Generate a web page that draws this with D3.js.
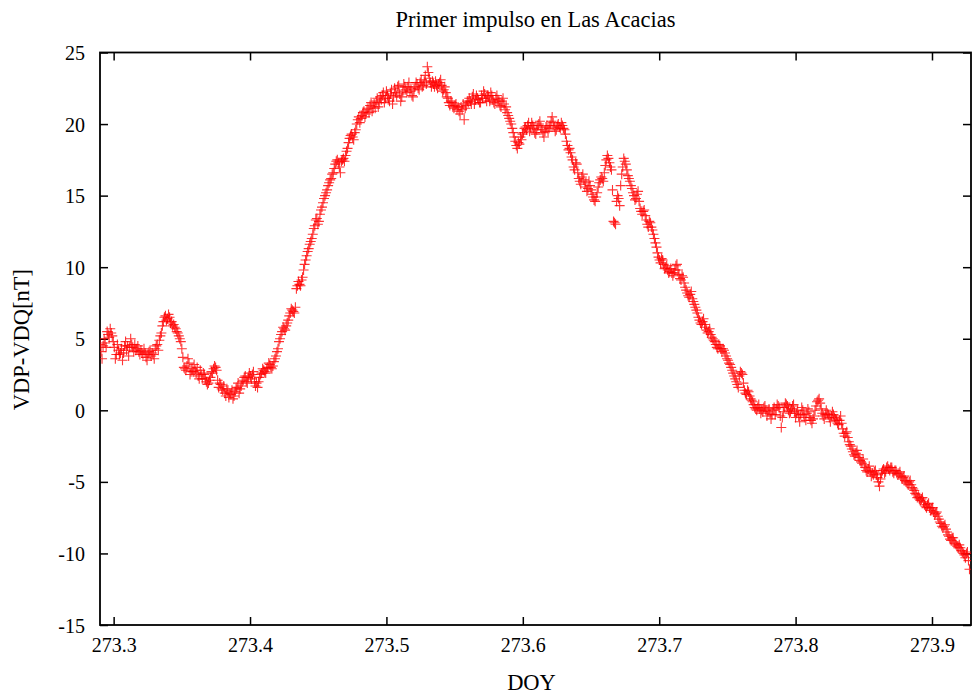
<!DOCTYPE html>
<html>
<head>
<meta charset="utf-8">
<script src="https://cdn.jsdelivr.net/npm/d3@7"></script>
<style>
  html, body { margin: 0; padding: 0; background: #fff; }
  svg { display: block; }
  text { font-family: "Liberation Serif", "Times New Roman", serif; fill: #000; }
</style>
</head>
<body>
<svg id="chart" width="972" height="696"></svg>
<script>
// ---- data ----
const chartTitle = "Primer impulso en Las Acacias";
const xLabel = "DOY";
const yLabel = "VDP-VDQ[nT]";
const doyStart = 273.29;   // first sample (day of year)
const doyStep = 0.00075;   // sample interval (days)
const xDomain = [273.29, 273.9286];
const yDomain = [-15, 25];
const xTickValues = [273.3, 273.4, 273.5, 273.6, 273.7, 273.8, 273.9];
const yTickValues = [-15, -10, -5, 0, 5, 10, 15, 20, 25];
const values = [
  4.6, 4.1, 3.6, 4.5, 5.0, 4.7, 4.4, 5.5, 5.3, 5.1, 5.7, 5.4, 5.2, 4.8, 4.4, 3.6, 3.9, 4.6, 4.2, 3.9,
  4.0, 4.3, 3.5, 4.0, 4.5, 4.8, 4.2, 4.5, 3.8, 4.4, 5.0, 4.6, 4.4, 4.1, 4.6, 4.2, 4.3, 4.5, 4.1, 3.9,
  4.2, 4.0, 3.9, 4.3, 4.0, 3.7, 3.5, 3.9, 4.1, 4.2, 3.8, 4.0, 3.9, 3.6, 4.3, 4.5, 4.6, 4.2, 4.9, 5.2,
  5.4, 5.9, 6.2, 6.5, 6.6, 6.3, 6.4, 6.7, 6.5, 6.1, 6.2, 5.9, 6.0, 5.8, 5.7, 5.5, 5.4, 5.2, 5.0, 4.8,
  4.3, 3.7, 3.0, 2.9, 2.8, 3.1, 3.6, 3.3, 2.5, 2.7, 2.9, 2.7, 3.2, 2.8, 2.6, 3.0, 2.4, 2.2, 2.8, 2.5,
  2.2, 2.6, 2.5, 2.2, 2.0, 1.8, 1.9, 2.1, 2.3, 2.7, 2.6, 2.9, 3.1, 3.0, 2.8, 2.1, 1.6, 1.9, 1.8, 1.5,
  1.4, 1.7, 1.2, 1.0, 1.5, 1.3, 0.9, 1.2, 1.1, 1.4, 0.8, 1.0, 1.3, 1.5, 1.6, 1.9, 1.2, 1.5, 1.7, 2.0,
  2.1, 2.3, 2.4, 2.0, 1.9, 2.3, 2.6, 2.4, 2.2, 2.5, 2.7, 2.0, 1.7, 1.9, 1.6, 2.0, 2.3, 2.5, 2.6, 2.9,
  2.8, 2.7, 2.6, 2.9, 3.0, 3.3, 3.2, 3.0, 2.9, 3.1, 3.4, 3.6, 3.8, 4.1, 4.3, 4.8, 5.0, 5.3, 5.5, 5.8,
  5.7, 5.6, 5.9, 6.1, 6.3, 6.6, 6.8, 7.1, 7.0, 6.9, 6.8, 7.2, 8.5, 8.7, 9.0, 8.8, 8.7, 9.1, 9.3, 9.8,
  10.2, 10.5, 10.8, 11.1, 11.3, 11.6, 11.8, 12.0, 12.3, 12.7, 12.9, 13.3, 13.4, 13.0, 13.2, 13.7, 14.0, 14.2, 14.5, 14.8,
  15.0, 15.2, 15.4, 15.7, 15.9, 16.1, 16.2, 16.5, 16.6, 16.9, 17.2, 17.4, 17.5, 17.3, 17.0, 16.6, 17.4, 17.5, 17.6, 17.4,
  17.8, 18.1, 18.3, 18.7, 19.0, 19.2, 19.3, 19.1, 18.9, 19.4, 19.6, 20.0, 20.3, 20.5, 20.1, 20.4, 20.6, 20.8, 20.9, 20.5,
  20.7, 21.0, 21.1, 20.8, 21.3, 21.5, 20.9, 21.2, 21.4, 21.1, 21.6, 21.8, 21.2, 21.5, 21.9, 21.7, 22.0, 22.2, 21.5, 21.8,
  22.3, 22.0, 21.8, 21.6, 22.1, 22.4, 21.4, 21.9, 22.5, 22.2, 22.0, 22.6, 22.7, 22.1, 21.6, 21.9, 22.3, 22.8, 22.6, 22.4,
  22.2, 22.6, 22.9, 22.3, 22.5, 22.0, 21.9, 22.4, 22.6, 22.9, 22.8, 22.5, 22.4, 22.9, 23.1, 22.6, 22.7, 23.0, 23.4, 22.8,
  24.0, 23.6, 23.2, 22.9, 22.6, 23.0, 22.8, 22.6, 23.0, 22.7, 22.5, 22.8, 22.9, 23.1, 22.7, 22.3, 22.4, 22.6, 22.2, 21.9,
  21.8, 21.5, 21.3, 21.6, 21.5, 21.2, 21.1, 21.3, 21.4, 21.0, 21.2, 20.9, 20.7, 21.2, 21.0, 21.4, 20.3, 21.1, 21.3, 21.6,
  21.5, 21.8, 21.6, 21.4, 21.9, 22.1, 21.4, 21.7, 22.0, 21.8, 21.7, 21.5, 21.5, 22.0, 21.8, 22.3, 22.1, 21.8, 21.6, 22.0,
  21.9, 21.6, 22.2, 22.0, 21.7, 21.5, 21.4, 21.8, 22.0, 21.7, 21.6, 21.3, 21.2, 21.6, 21.8, 21.4, 21.0, 21.2, 20.8, 20.6,
  20.4, 20.2, 20.0, 19.7, 19.4, 19.1, 18.8, 18.5, 18.3, 18.7, 18.6, 19.1, 18.9, 19.3, 19.4, 19.7, 19.8, 19.6, 19.9, 20.1,
  19.5, 19.8, 20.1, 19.9, 19.7, 19.4, 19.3, 19.6, 19.9, 20.0, 20.2, 19.8, 19.6, 19.4, 19.1, 19.5, 19.8, 19.9, 19.5, 19.7,
  19.9, 20.2, 20.5, 20.1, 19.8, 19.5, 19.6, 19.9, 20.0, 19.8, 19.7, 20.1, 19.9, 19.7, 19.6, 19.3, 18.8, 18.5, 18.2, 18.3,
  18.0, 17.7, 17.5, 17.0, 16.8, 17.3, 17.2, 16.6, 16.2, 16.0, 15.8, 16.3, 16.5, 16.1, 15.6, 15.9, 15.3, 15.5, 16.0, 15.7,
  15.4, 15.1, 14.9, 14.7, 14.6, 14.9, 15.2, 15.6, 15.9, 16.1, 16.3, 16.2, 16.0, 16.6, 17.1, 17.5, 17.8, 17.6, 17.3, 17.0,
  16.8, 15.4, 13.2, 13.1, 13.0, 14.6, 15.0, 14.8, 14.3, 15.7, 16.5, 17.0, 17.6, 17.4, 17.2, 16.8, 16.4, 16.2, 16.0, 15.7,
  15.5, 15.2, 15.0, 14.7, 14.8, 15.1, 15.3, 14.6, 14.1, 13.9, 13.7, 13.9, 14.0, 13.6, 13.3, 13.0, 12.8, 13.2, 13.1, 12.8,
  12.6, 12.3, 12.0, 11.7, 11.4, 11.0, 10.7, 10.5, 10.3, 10.6, 10.5, 10.2, 9.9, 10.0, 10.1, 9.8, 9.6, 9.7, 9.9, 9.6,
  9.4, 9.6, 9.8, 10.1, 10.2, 9.8, 9.5, 9.2, 9.1, 9.4, 9.3, 8.9, 8.6, 8.4, 8.2, 8.0, 7.9, 8.1, 8.3, 7.8,
  7.6, 7.4, 7.2, 7.0, 6.8, 6.5, 6.3, 6.1, 6.0, 6.2, 6.4, 6.0, 5.8, 5.6, 5.4, 5.5, 5.7, 5.3, 5.1, 5.0,
  4.9, 4.8, 4.6, 4.4, 4.3, 4.6, 4.5, 4.3, 4.1, 4.3, 4.2, 4.0, 3.8, 3.6, 3.5, 3.3, 3.2, 3.0, 2.8, 2.6,
  2.4, 2.2, 2.0, 1.8, 1.6, 2.4, 2.7, 2.6, 2.5, 1.9, 1.4, 1.2, 1.1, 1.4, 1.3, 1.0, 0.8, 0.7, 0.6, 0.4,
  0.2, 0.1, 0.0, 0.2, 0.4, 0.1, -0.2, 0.0, -0.1, 0.2, 0.3, 0.0, -0.4, -0.1, 0.1, -0.2, -0.6, -0.3, 0.0, 0.2,
  -0.3, 0.1, 0.4, 0.3, 0.2, -0.4, -1.2, -0.5, -0.1, 0.2, 0.5, 0.4, 0.3, 0.0, -0.2, -0.1, 0.1, 0.3, 0.4, -0.1,
  -0.5, -0.2, 0.0, -0.4, -0.8, -0.3, 0.2, 0.0, -0.3, -0.5, -0.7, -0.2, 0.1, -0.1, -0.5, -0.7, -0.9, -0.6, -0.4, 0.0,
  0.3, 0.6, 0.7, 0.8, 0.5, 0.1, -0.2, -0.4, -0.6, -0.3, 0.0, -0.2, -0.3, -0.5, -0.8, -0.4, -0.1, -0.3, -0.5, -0.6,
  -0.7, -0.9, -1.0, -0.7, -0.4, -0.9, -1.3, -1.6, -1.8, -1.6, -1.5, -1.9, -2.2, -2.4, -2.5, -2.7, -2.9, -3.1, -3.2, -3.0,
  -2.8, -3.1, -3.3, -3.5, -3.6, -3.7, -3.4, -3.8, -4.0, -4.2, -4.3, -4.1, -3.9, -4.3, -4.6, -4.4, -4.5, -4.3, -4.2, -4.5,
  -4.7, -5.0, -5.3, -4.8, -4.4, -4.2, -4.1, -4.4, -4.3, -4.0, -3.9, -4.1, -4.2, -4.0, -4.0, -4.3, -4.4, -4.2, -4.2, -4.4,
  -4.5, -4.4, -4.3, -4.6, -4.8, -4.7, -4.6, -4.9, -5.0, -5.1, -5.2, -5.0, -4.9, -5.2, -5.4, -5.5, -5.6, -5.8, -5.9, -6.1,
  -6.0, -6.2, -6.3, -6.2, -6.1, -6.4, -6.6, -6.7, -6.8, -6.6, -6.5, -6.8, -7.0, -6.9, -6.8, -7.1, -7.3, -7.2, -7.1, -7.4,
  -7.6, -7.8, -7.9, -8.1, -8.2, -8.1, -8.0, -8.3, -8.5, -8.7, -8.8, -9.0, -9.1, -8.9, -8.9, -9.2, -9.3, -9.4, -9.5, -9.6,
  -9.4, -9.6, -9.8, -9.9, -10.0, -10.1, -10.3, -10.0, -9.9, -10.5, -11.1
];

// ---- layout ----
const W = 972, H = 696;
const plot = { left: 100, right: 971, top: 52.5, bottom: 625 };

const points = values.map((v, i) => ({ doy: doyStart + i * doyStep, v }));

const x = d3.scaleLinear().domain(xDomain).range([plot.left, plot.right]);
const y = d3.scaleLinear().domain(yDomain).range([plot.bottom, plot.top]);

const svg = d3.select("#chart");
svg.append("rect").attr("width", W).attr("height", H).attr("fill", "#fff");

const tickLen = 8;
const axisFont = 20;
const serif = '"Liberation Serif", "Times New Roman", serif';

// bottom axis (inward ticks)
const gBottom = svg.append("g").attr("transform", `translate(0,${plot.bottom})`)
  .call(d3.axisBottom(x).tickValues(xTickValues).tickFormat(d => d.toFixed(1))
    .tickSizeInner(-tickLen).tickSizeOuter(0).tickPadding(tickLen + 5));
// top mirror
const gTop = svg.append("g").attr("transform", `translate(0,${plot.top})`)
  .call(d3.axisTop(x).tickValues(xTickValues).tickFormat("")
    .tickSizeInner(-tickLen).tickSizeOuter(0));
// left axis (plain hyphen for negatives, as in the reference)
const gLeft = svg.append("g").attr("transform", `translate(${plot.left},0)`)
  .call(d3.axisLeft(y).tickValues(yTickValues).tickFormat(d => String(d))
    .tickSizeInner(-tickLen).tickSizeOuter(0).tickPadding(tickLen + 7));
// right mirror
const gRight = svg.append("g").attr("transform", `translate(${plot.right},0)`)
  .call(d3.axisRight(y).tickValues(yTickValues).tickFormat("")
    .tickSizeInner(-tickLen).tickSizeOuter(0));

[gBottom, gTop, gLeft, gRight].forEach(g => {
  g.attr("font-family", serif);
  g.select(".domain").remove();
  g.selectAll(".tick line").attr("stroke", "#000").attr("stroke-width", 1.5);
  g.selectAll("text").attr("font-size", axisFont)
    .attr("font-family", serif).attr("fill", "#000");
});
gLeft.selectAll("text").attr("dy", "0.35em");

// frame
svg.append("rect")
  .attr("x", plot.left).attr("y", plot.top)
  .attr("width", plot.right - plot.left).attr("height", plot.bottom - plot.top)
  .attr("fill", "none").attr("stroke", "#000").attr("stroke-width", 1.8);

// points as "+" markers
svg.append("defs").append("clipPath").attr("id", "clip")
  .append("rect").attr("x", plot.left).attr("y", plot.top)
  .attr("width", plot.right - plot.left).attr("height", plot.bottom - plot.top);

svg.append("g").attr("clip-path", "url(#clip)")
  .selectAll("path.pt").data(points).join("path")
  .attr("class", "pt")
  .attr("d", d => `M${x(d.doy) - 5},${y(d.v)}H${x(d.doy) + 5}M${x(d.doy)},${y(d.v) - 5}V${y(d.v) + 5}`)
  .attr("stroke", "#ff0000").attr("stroke-width", 1.1).attr("stroke-opacity", 0.8)
  .attr("fill", "none");

// title & axis labels
svg.append("text").attr("x", (plot.left + plot.right) / 2).attr("y", 27)
  .attr("text-anchor", "middle").attr("font-size", 22.5).text(chartTitle);
svg.append("text").attr("x", (plot.left + plot.right) / 2 - 4).attr("y", 690)
  .attr("text-anchor", "middle").attr("font-size", 22.5).text(xLabel);
svg.append("text").attr("transform", `translate(29,${(plot.top + plot.bottom) / 2 + 1}) rotate(-90)`)
  .attr("text-anchor", "middle").attr("font-size", 22.5).text(yLabel);
</script>
</body>
</html>
